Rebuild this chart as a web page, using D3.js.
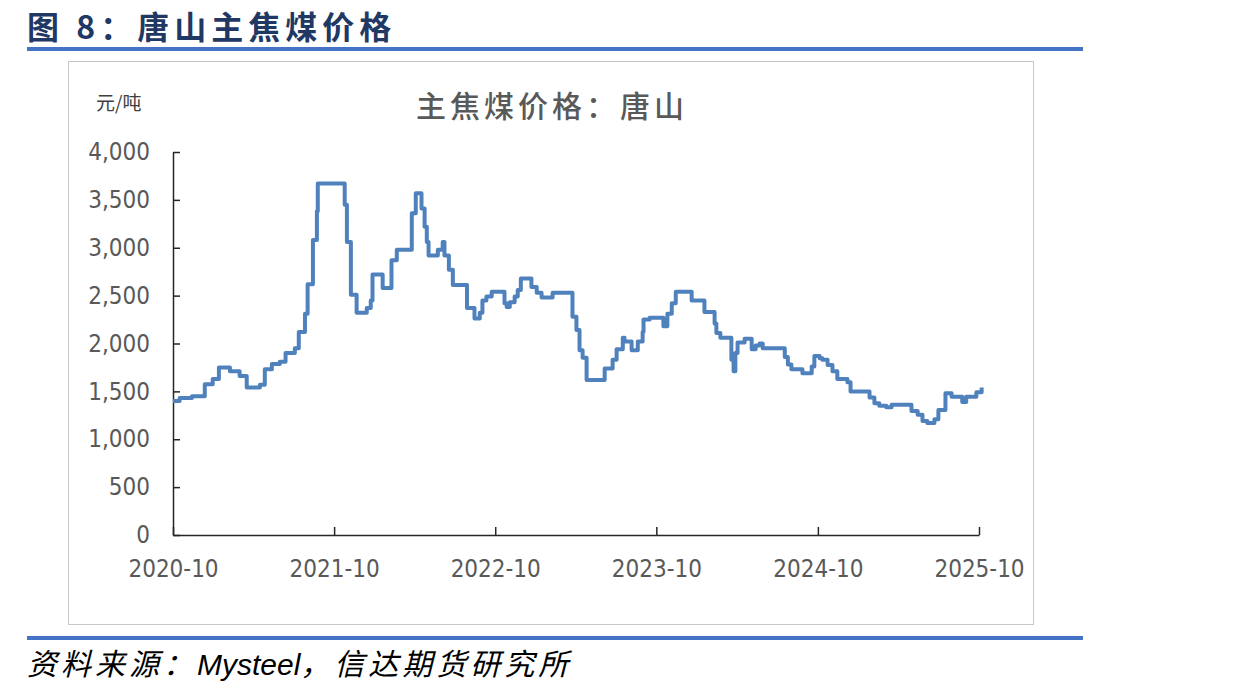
<!DOCTYPE html>
<html>
<head>
<meta charset="utf-8">
<script src="https://cdn.jsdelivr.net/npm/d3@7/dist/d3.min.js"></script>
<style>
  body { margin: 0; background: #fff; }
  svg { display: block; }
</style>
</head>
<body>
<div id="chart"></div>
<script>
// price change points, weekly series (value holds until next date)
let dates = [
  "2020-10-01","2020-10-16","2020-11-13","2020-12-12","2020-12-30","2021-01-13","2021-02-07","2021-03-01",
  "2021-03-17","2021-04-16","2021-04-27","2021-05-13","2021-05-31","2021-06-13","2021-07-04","2021-07-13",
  "2021-07-27","2021-08-02","2021-08-14","2021-08-23","2021-08-25","2021-10-25","2021-10-30","2021-11-08",
  "2021-11-21","2021-12-14","2021-12-23","2021-12-27","2022-01-19","2022-02-08","2022-02-20","2022-03-26",
  "2022-04-04","2022-04-17","2022-04-24","2022-04-29","2022-05-03","2022-05-24","2022-06-04","2022-06-08",
  "2022-06-18","2022-06-27","2022-07-29","2022-08-15","2022-08-27","2022-09-02","2022-09-11","2022-09-23",
  "2022-10-22","2022-10-27","2022-11-03","2022-11-14","2022-11-21","2022-11-28","2022-12-22","2023-01-03",
  "2023-01-14","2023-02-08","2023-03-25","2023-04-03","2023-04-10","2023-04-17","2023-04-26","2023-06-06",
  "2023-06-24","2023-07-03","2023-07-17","2023-07-21","2023-08-06","2023-08-20","2023-08-31","2023-09-02",
  "2023-09-16","2023-10-17","2023-10-26","2023-11-05","2023-11-14","2023-12-20","2024-01-18","2024-02-10",
  "2024-02-14","2024-02-23","2024-03-19","2024-03-24","2024-03-28","2024-04-02","2024-04-18","2024-05-04",
  "2024-05-13","2024-05-22","2024-05-29","2024-07-18","2024-07-25","2024-08-02","2024-08-27","2024-09-17",
  "2024-09-23","2024-10-05","2024-10-11","2024-10-23","2024-11-03","2024-11-14","2024-12-07","2024-12-14",
  "2025-01-26","2025-02-06","2025-02-17","2025-03-05","2025-03-17","2025-05-01","2025-05-15","2025-05-26",
  "2025-06-06","2025-06-22","2025-07-01","2025-07-17","2025-07-31","2025-08-24","2025-09-02","2025-09-25",
  "2025-10-07"
];
let prices = [
  1400,1430,1450,1575,1630,1750,1710,1660,
  1540,1570,1730,1785,1810,1900,1950,2120,
  2310,2620,3080,3380,3670,3450,3060,2510,
  2320,2370,2450,2720,2580,2870,2980,3360,
  3570,3410,3220,3060,2920,2980,3060,2920,
  2770,2610,2370,2260,2320,2450,2490,2540,
  2420,2380,2430,2490,2560,2680,2590,2530,
  2480,2530,2280,2140,1930,1850,1620,1740,
  1830,1940,2060,2020,1930,2020,2120,2250,
  2270,2180,2310,2420,2540,2450,2330,2210,
  2110,2060,1830,1710,1900,2010,2050,1940,
  1980,2000,1950,1860,1780,1730,1690,1760,
  1870,1845,1830,1775,1710,1630,1595,1500,
  1435,1375,1350,1335,1360,1295,1255,1190,
  1170,1210,1305,1480,1445,1390,1445,1490,
  1540
];
let xTickLabels = ["2020-10","2021-10","2022-10","2023-10","2024-10","2025-10"];
let yTicks = [0, 500, 1000, 1500, 2000, 2500, 3000, 3500, 4000];

let pageTitle = "图 8：唐山主焦煤价格";
let chartTitle = "主焦煤价格：唐山";
let unitLabel = "元/吨";
let sourceText = ["资料来源：", "Mysteel", "，信达期货研究所"];

let W = 1237, H = 695;
let margin = { top: 152, right: 258, bottom: 160, left: 173 };
let width = W - margin.left - margin.right;
let height = H - margin.top - margin.bottom;
let lineColor = "#4f81bd";
let labelFont = "'Liberation Sans Narrow', 'DejaVu Sans Condensed', sans-serif";
let cjkFont = "'Noto Sans CJK SC', sans-serif";

let parseDay = d3.timeParse("%Y-%m-%d");
let parseMonth = d3.timeParse("%Y-%m");
let data = dates.map((d, i) => ({ date: parseDay(d), value: prices[i] }));
let tickDates = xTickLabels.map(parseMonth);

let svg = d3.select("#chart").append("svg")
    .attr("width", W)
    .attr("height", H);

// page heading + rules
svg.append("text")
    .attr("x", 27)
    .attr("y", 39)
    .attr("font-family", cjkFont)
    .attr("font-weight", 700)
    .attr("font-size", 32)
    .attr("letter-spacing", 5)
    .attr("fill", "#1f3864")
    .text(pageTitle);

svg.append("rect").attr("x", 27).attr("y", 47).attr("width", 1056).attr("height", 4).attr("fill", "#4472c4");
svg.append("rect").attr("x", 27).attr("y", 636).attr("width", 1056).attr("height", 4).attr("fill", "#4472c4");

// chart frame
svg.append("rect")
    .attr("x", 68.5)
    .attr("y", 61.5)
    .attr("width", 965)
    .attr("height", 563)
    .attr("fill", "#fff")
    .attr("stroke", "#c8c8c8")
    .attr("stroke-width", 1);

svg.append("text")
    .attr("x", 552)
    .attr("y", 117)
    .attr("text-anchor", "middle")
    .attr("font-family", cjkFont)
    .attr("font-weight", 500)
    .attr("font-size", 30)
    .attr("letter-spacing", 4)
    .attr("fill", "#595959")
    .text(chartTitle);

svg.append("text")
    .attr("x", 96)
    .attr("y", 110)
    .attr("font-family", cjkFont)
    .attr("font-size", 19)
    .attr("fill", "#404040")
    .text(unitLabel);

let g = svg.append("g")
    .attr("transform", `translate(${margin.left}, ${margin.top})`);

let x = d3.scaleTime()
    .domain([tickDates[0], tickDates[tickDates.length - 1]])
    .range([0, width]);

let y = d3.scaleLinear()
    .domain([0, 4000])
    .range([height, 0]);

let yAxis = d3.axisLeft(y)
    .tickValues(yTicks)
    .tickFormat(d3.format(","))
    .tickSizeInner(-7)
    .tickSizeOuter(0)
    .tickPadding(23);

let xAxis = d3.axisBottom(x)
    .tickValues(tickDates)
    .tickFormat(d3.timeFormat("%Y-%m"))
    .tickSizeInner(-8)
    .tickSizeOuter(0)
    .tickPadding(25);

let gy = g.append("g").attr("class", "axis axis--y").call(yAxis);
let gx = g.append("g").attr("class", "axis axis--x")
    .attr("transform", `translate(0, ${height})`)
    .call(xAxis);

[gy, gx].forEach(ax => {
    ax.select(".domain").attr("stroke", "#262626").attr("stroke-width", 1.5);
    ax.selectAll(".tick line").attr("stroke", "#262626").attr("stroke-width", 1.5);
    ax.selectAll(".tick text")
        .attr("font-family", labelFont)
        .attr("font-size", 24)
        .attr("fill", "#595959");
});

let line = d3.line()
    .curve(d3.curveStepAfter)
    .x(d => x(d.date))
    .y(d => y(d.value));

g.append("path")
    .datum(data)
    .attr("class", "line")
    .attr("d", line)
    .attr("fill", "none")
    .attr("stroke", lineColor)
    .attr("stroke-width", 4)
    .attr("stroke-linejoin", "round");

// source note
let src = svg.append("text")
    .attr("x", 27)
    .attr("y", 675)
    .attr("font-size", 30)
    .attr("font-style", "italic")
    .attr("fill", "#000");
src.append("tspan").attr("font-family", cjkFont).attr("letter-spacing", 4).text(sourceText[0]);
src.append("tspan").attr("font-family", "'Liberation Sans', Arial, sans-serif").text(sourceText[1]);
src.append("tspan").attr("font-family", cjkFont).attr("letter-spacing", 4).text(sourceText[2]);
</script>
</body>
</html>
